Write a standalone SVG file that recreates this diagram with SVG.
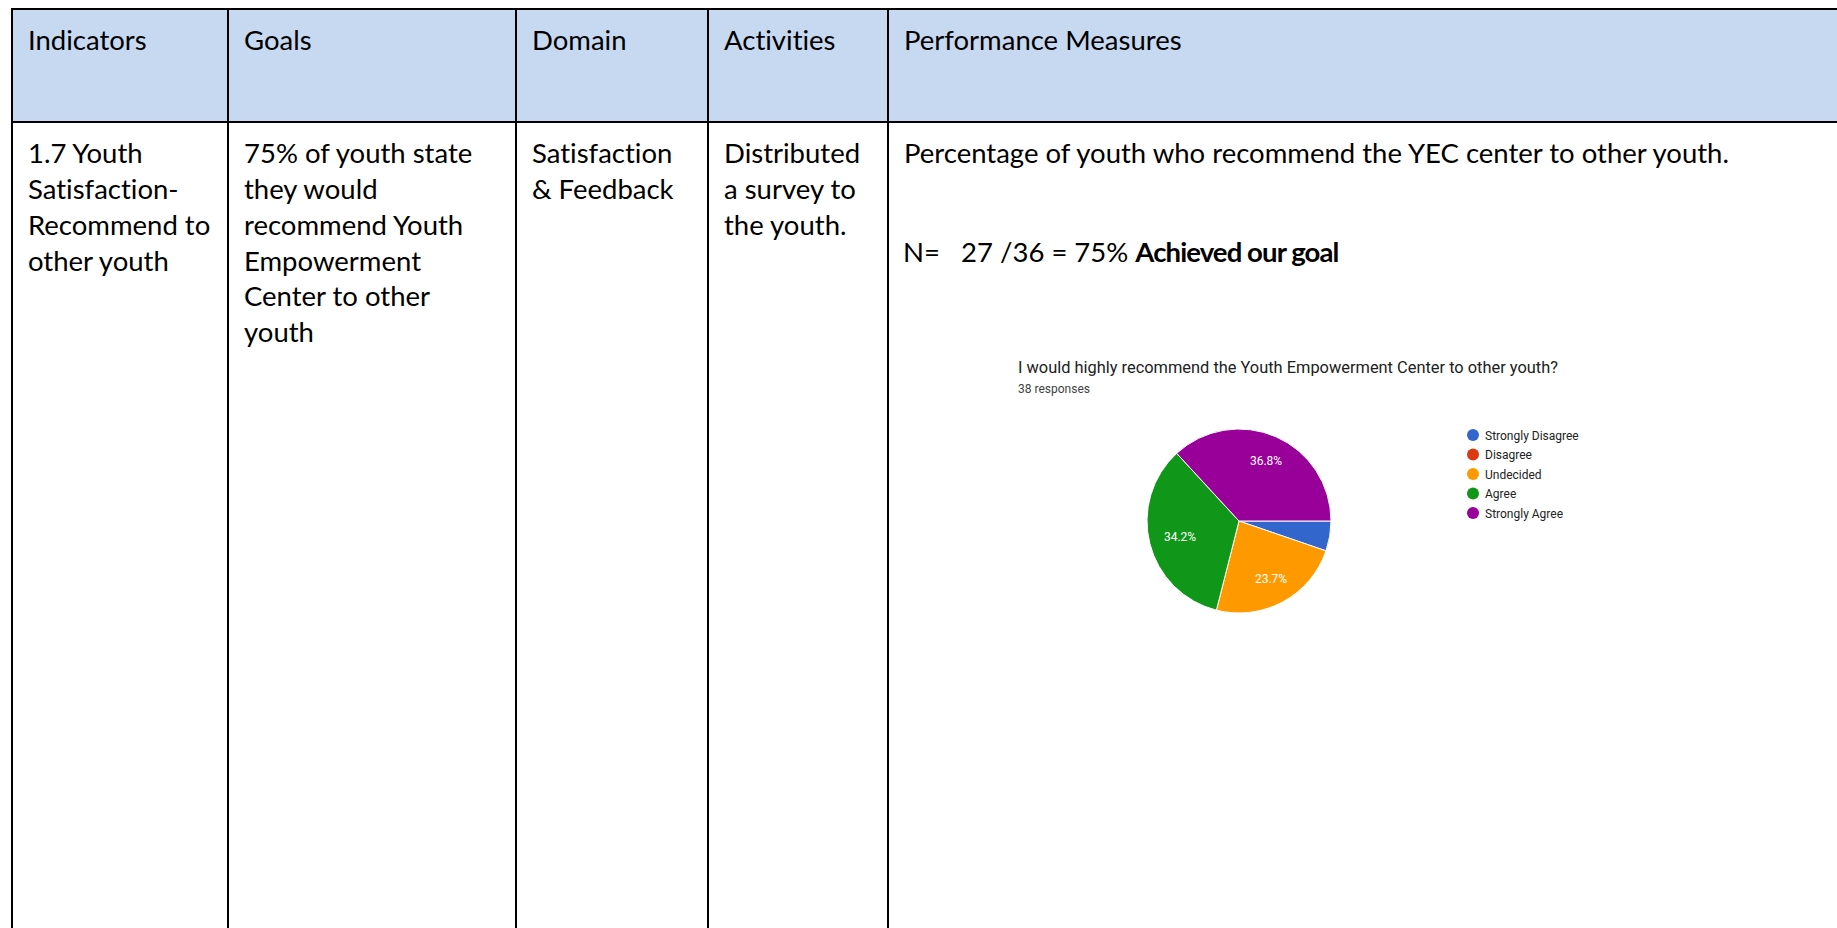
<svg xmlns="http://www.w3.org/2000/svg" width="1837" height="928" viewBox="0 0 1837 928">
<style>
.t{font-family:Lato,"Open Sans","Liberation Sans",sans-serif;font-size:27.5px;fill:#000;white-space:pre;font-variant-ligatures:none;font-feature-settings:"liga" 0}
.b{font-weight:bold;letter-spacing:-0.9px}
.c{font-family:Roboto,"Liberation Sans",Arial,sans-serif}
.lbl{font-size:12px;fill:#fff;text-anchor:middle}
.leg{font-size:12px;fill:#222}
.ln{stroke:#000;stroke-width:2;fill:none}
</style>
<rect x="0" y="0" width="1837" height="928" fill="#fff"/>
<g id="table">
<rect x="12" y="9" width="1826" height="113" fill="#c6d9f1"/>
<g id="grid">
<line class="ln" x1="11" y1="9" x2="1837" y2="9"/>
<line class="ln" x1="11" y1="122" x2="1837" y2="122"/>
<line class="ln" x1="12" y1="8" x2="12" y2="928"/>
<line class="ln" x1="228" y1="9" x2="228" y2="928"/>
<line class="ln" x1="516" y1="9" x2="516" y2="928"/>
<line class="ln" x1="708" y1="9" x2="708" y2="928"/>
<line class="ln" x1="888" y1="9" x2="888" y2="928"/>
</g>
<g id="header">
<text class="t" x="28" y="50">Indicators</text>
<text class="t" x="244" y="50">Goals</text>
<text class="t" x="532" y="50">Domain</text>
<text class="t" x="724" y="50">Activities</text>
<text class="t" x="904" y="50">Performance Measures</text>
</g>
<g id="col-indicators">
<text class="t" x="28" y="163">1.7 Youth</text>
<text class="t" x="28" y="199">Satisfaction-</text>
<text class="t" x="28" y="235">Recommend to</text>
<text class="t" x="28" y="271">other youth</text>
</g>
<g id="col-goals">
<text class="t" x="244" y="163">75% of youth state</text>
<text class="t" x="244" y="199">they would</text>
<text class="t" x="244" y="235">recommend Youth</text>
<text class="t" x="244" y="271">Empowerment</text>
<text class="t" x="244" y="306">Center to other</text>
<text class="t" x="244" y="342">youth</text>
</g>
<g id="col-domain">
<text class="t" x="532" y="163">Satisfaction</text>
<text class="t" x="532" y="199">&amp; Feedback</text>
</g>
<g id="col-activities">
<text class="t" x="724" y="163">Distributed</text>
<text class="t" x="724" y="199">a survey to</text>
<text class="t" x="724" y="235">the youth.</text>
</g>
<g id="col-measures">
<text class="t" x="904" y="163">Percentage of youth who recommend the YEC center to other youth.</text>
<text class="t" x="903" y="262">N=   27 /36 = 75% <tspan class="b">Achieved our goal</tspan></text>
</g>
</g>
<g id="chart">
<text class="c" x="1018" y="373" font-size="16.4" fill="#212121">I would highly recommend the Youth Empowerment Center to other youth?</text>
<text class="c" x="1018" y="393" font-size="12" fill="#424242">38 responses</text>
<g id="pie" stroke="#fff" stroke-width="1" stroke-linejoin="round">
<path d="M1239,521 L1331,521 A92,92 0 0 1 1326.01,550.87 Z" fill="#3366cc"/>
<path d="M1239,521 L1326.01,550.87 A92,92 0 0 1 1216.41,610.18 Z" fill="#ff9900"/>
<path d="M1239,521 L1216.41,610.18 A92,92 0 0 1 1176.69,453.32 Z" fill="#109618"/>
<path d="M1239,521 L1176.69,453.32 A92,92 0 0 1 1331,521 Z" fill="#990099"/>
</g>
<text class="c lbl" x="1266" y="465">36.8%</text>
<text class="c lbl" x="1180" y="541">34.2%</text>
<text class="c lbl" x="1271" y="583">23.7%</text>
<g id="legend">
<circle cx="1473" cy="435" r="6" fill="#3366cc"/>
<circle cx="1473" cy="454.5" r="6" fill="#dc3912"/>
<circle cx="1473" cy="474" r="6" fill="#ff9900"/>
<circle cx="1473" cy="493.5" r="6" fill="#109618"/>
<circle cx="1473" cy="513" r="6" fill="#990099"/>
<text class="c leg" x="1485" y="439.5">Strongly Disagree</text>
<text class="c leg" x="1485" y="459">Disagree</text>
<text class="c leg" x="1485" y="478.5">Undecided</text>
<text class="c leg" x="1485" y="498">Agree</text>
<text class="c leg" x="1485" y="517.5">Strongly Agree</text>
</g>
</g>
</svg>
